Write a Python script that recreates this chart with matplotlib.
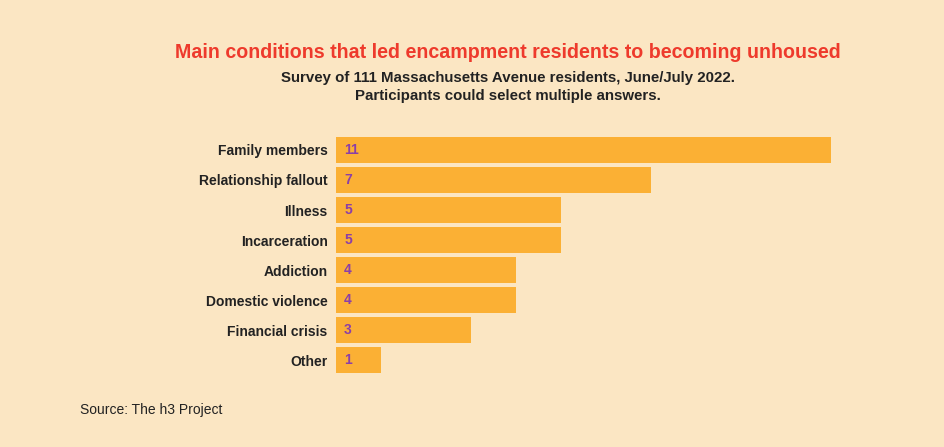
import numpy as np
import matplotlib.pyplot as plt

plt.rcParams['font.family'] = ['Liberation Sans', 'DejaVu Sans']

# datos
causas = ["Family members", "Relationship fallout", "Illness", "Incarceration",
          "Addiction", "Domestic violence", "Financial crisis", "Other"]
valores = [11, 7, 5, 5, 4, 4, 3, 1]

fondo = "#FBE6C3"
barra = "#FBB034"
morado = "#8B3FA8"

fig = plt.figure(figsize=(9.45, 4.47), dpi=100, facecolor=fondo)
ax = fig.add_axes([336/945, 1 - 375/447, (831 - 336)/945, (375 - 135)/447])
ax.set_facecolor(fondo)

y = np.arange(len(causas))
ax.barh(y, valores, height=0.86, color=barra)
ax.set_xlim(0, 11)
ax.set_ylim(len(causas) - 0.5, -0.5)

for yi, v in zip(y, valores):
    ax.text(0.18, yi, str(v), color=morado, fontsize=10, fontweight="bold",
            va="center", ha="left")

ax.set_yticks(y)
ax.set_yticklabels(causas, fontsize=10, fontweight="bold", color="#222222")
ax.tick_params(axis="y", length=0, pad=6)
ax.set_xticks([])
for s in ax.spines.values():
    s.set_visible(False)

fig.text(508/945, 1 - 52/447, "Main conditions that led encampment residents to becoming unhoused",
         color="#EE3A2C", fontsize=14.1, fontweight="bold", ha="center", va="center")
fig.text(508/945, 1 - 87/447, "Survey of 111 Massachusetts Avenue residents, June/July 2022.\nParticipants could select multiple answers.",
         color="#222222", fontsize=10.8, fontweight="bold", ha="center", va="center",
         linespacing=1.45)
fig.text(80/945, 1 - 410/447, "Source: The h3 Project", color="#222222", fontsize=10,
         ha="left", va="center")

plt.savefig("out.png", dpi=100, facecolor=fondo)
